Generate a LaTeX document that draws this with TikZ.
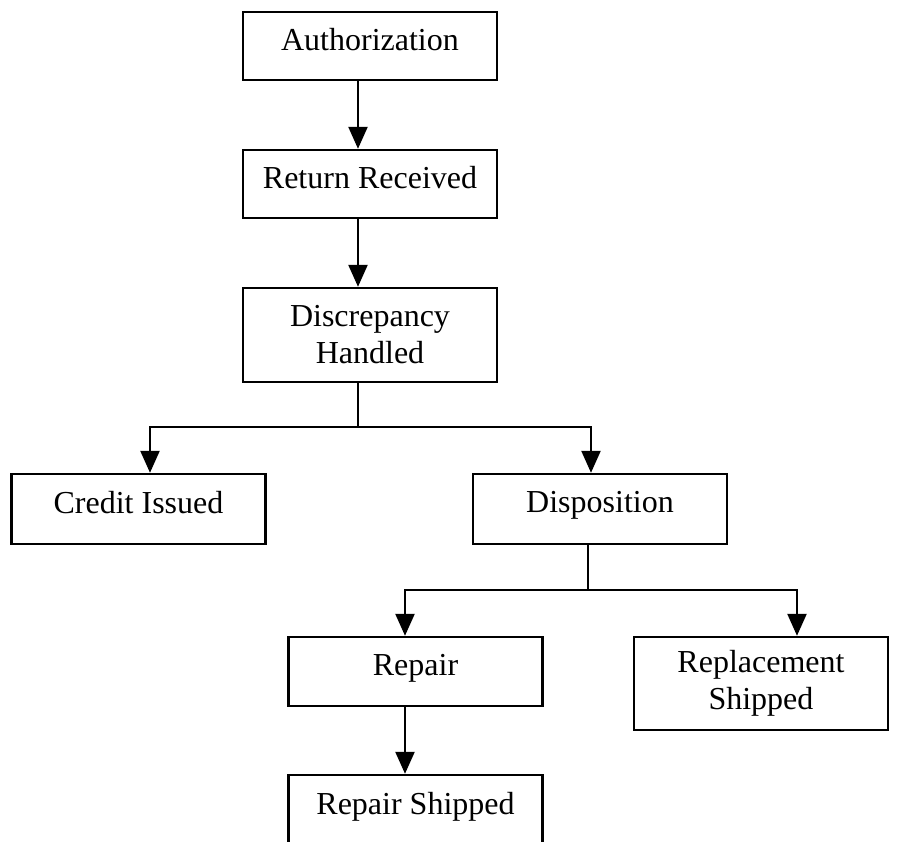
\documentclass[tikz,border=0pt]{standalone}
\usepackage{fontspec}
\setmainfont{Liberation Serif}
\usetikzlibrary{arrows.meta}
\tikzset{
    box/.style={draw, line width=2.4pt, minimum width=254pt, minimum height=68pt, align=center, inner sep=0pt, font=\fontsize{32}{37}\selectfont},
    arr/.style={line width=2.4pt, -{Triangle[width=19pt,length=22pt]}},
    link/.style={line width=2.4pt}
}
\begin{document}
\begin{tikzpicture}[x=1pt, y=-1pt]
        \useasboundingbox (0,0) rectangle (924,842);
        \clip (0,0) rectangle (924,842);

        \node[box, text depth=14pt] (auth) at (370, 46) {Authorization};
        \node[box, text depth=14pt] (ret) at (370, 184) {Return Received};
        \node[box, minimum height=94pt] (disc) at (370, 335) {Discrepancy\\Handled};
        \node[box, minimum height=70pt, text depth=14pt] (credit) at (138.5, 509) {Credit Issued};
        \node[box, minimum height=70pt, text depth=14pt] (disp) at (600, 509) {Disposition};
        \node[box, minimum height=69pt, text depth=14pt] (repair) at (415.5, 671.5) {Repair};
        \node[box, minimum height=93pt] (repl) at (761, 683.5) {Replacement\\Shipped};
        \node[box, minimum height=100pt, text depth=44pt] (ship) at (415.5, 825) {Repair Shipped};

        \coordinate (splitA) at (358, 427);
        \coordinate (splitB) at (588, 590);

        \draw[arr] ([xshift=-12pt]auth.south) -- ([xshift=-12pt]ret.north);
        \draw[arr] ([xshift=-12pt]ret.south) -- ([xshift=-12pt]disc.north);
        \draw[link] ([xshift=-12pt]disc.south) -- (splitA);
        \draw[arr] (splitA) -| ([xshift=11.5pt]credit.north);
        \draw[arr] (splitA) -| ([xshift=-9pt]disp.north);
        \draw[link] ([xshift=-12pt]disp.south) -- (splitB);
        \draw[arr] (splitB) -| ([xshift=-10.5pt]repair.north);
        \draw[arr] (splitB) -| ([xshift=36pt]repl.north);
        \draw[arr] ([xshift=-10.5pt]repair.south) -- ([xshift=-10.5pt]ship.north);

    \end{tikzpicture}
\end{document}
